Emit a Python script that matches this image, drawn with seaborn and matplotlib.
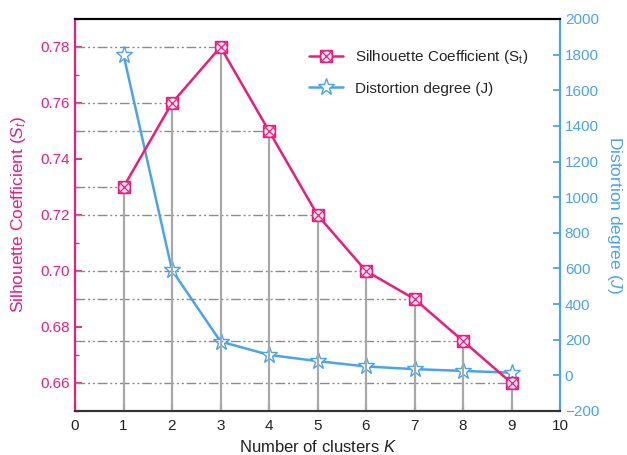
import matplotlib
matplotlib.use("Agg")
import matplotlib.pyplot as plt
import seaborn as sns
import pandas as pd
from matplotlib.lines import Line2D
from matplotlib.ticker import MultipleLocator

sns.set_theme(style="white")
plt.rcParams['font.family'] = ['Liberation Sans', 'DejaVu Sans']
plt.rcParams['mathtext.fontset'] = 'custom'
plt.rcParams['mathtext.rm'] = 'Liberation Sans'
plt.rcParams['mathtext.it'] = 'Liberation Sans:italic'

K = [1, 2, 3, 4, 5, 6, 7, 8, 9]
silhouette = [0.73, 0.76, 0.78, 0.75, 0.72, 0.70, 0.69, 0.675, 0.66]
distortion = [1800, 590, 190, 115, 80, 50, 35, 25, 15]

PINK = "#EC1C7A"
BLUE = "#4AA3EE"
df = pd.DataFrame({"K": K, "S": silhouette, "J": distortion})

fig = plt.figure(figsize=(6.27, 4.55), dpi=100)
ax = fig.add_axes([75/627, 1-411/455, 485/627, 392/455])
ax2 = ax.twinx()

ax.set_xlim(0, 10)
ax.set_ylim(0.65, 0.79)
ax2.set_ylim(-200, 2000)

# guide lines
ax.hlines(silhouette, 0, K, colors="#8c8c8c", linewidth=1.0,
          linestyles=(0, (7, 2, 1.5, 2, 1.5, 2)), zorder=1)
ax.vlines(K, 0.65, silhouette, colors="#a8a8a8", linewidth=1.6, zorder=1)

# silhouette line
sns.lineplot(data=df, x="K", y="S", ax=ax, color=PINK, linewidth=1.8,
             marker="s", markersize=9, markerfacecolor="#fde8f1",
             markeredgecolor=PINK, markeredgewidth=1.0, zorder=4, legend=False)
ax.plot(K, silhouette, linestyle="none", marker="x", markersize=8,
        color=PINK, markeredgewidth=0.9, zorder=5)
ax.plot(K, silhouette, linestyle="none", marker="o", markersize=8.5,
        markerfacecolor="none", markeredgecolor=PINK, markeredgewidth=0.9, zorder=5)

# distortion line
sns.lineplot(data=df, x="K", y="J", ax=ax2, color=BLUE, linewidth=1.8,
             marker="*", markersize=12.5, markerfacecolor="white",
             markeredgecolor=BLUE, markeredgewidth=1.0, zorder=4, legend=False)

ax.set_zorder(ax2.get_zorder() + 1)
ax.patch.set_visible(False)

# axes styling
for a in (ax, ax2):
    for s in a.spines.values():
        s.set_visible(True)
        s.set_linewidth(1.5)
    a.spines['top'].set_color("black")
    a.spines['bottom'].set_color("#333333")
    a.spines['left'].set_color(PINK)
    a.spines['right'].set_color(BLUE)

ax.xaxis.set_major_locator(MultipleLocator(1))
ax.yaxis.set_major_locator(MultipleLocator(0.02))
ax.yaxis.set_minor_locator(MultipleLocator(0.01))
ax.yaxis.set_major_formatter(matplotlib.ticker.FormatStrFormatter("%.2f"))
ax2.yaxis.set_major_locator(MultipleLocator(200))

ax.tick_params(axis="x", direction="in", length=5, width=1.5, color="#333333",
               labelsize=11, labelcolor="#222222", pad=6, bottom=True)
ax.tick_params(axis="y", which="major", direction="in", length=5, width=1.3,
               color=PINK, labelcolor=PINK, labelsize=11, left=True, right=False)
ax.tick_params(axis="y", which="minor", direction="in", length=3, width=1.0,
               color=PINK, left=True, right=False)
ax2.tick_params(axis="y", direction="in", length=5, width=1.3, color=BLUE,
                labelcolor=BLUE, labelsize=11, right=True, left=False)

ax.set_xlabel("Number of clusters $K$", fontsize=12, color="#222222", labelpad=4)
ax.set_ylabel("Silhouette Coefficient ($S_t$)", fontsize=12.5, color=PINK, labelpad=9)
ax2.set_ylabel("Distortion degree ($J$)", fontsize=12.5, color=BLUE,
               rotation=270, labelpad=18)
ax.grid(False)
ax2.grid(False)

h1 = (Line2D([], [], color=PINK, linewidth=1.8, marker="s", markersize=9,
             markerfacecolor="#fde8f1", markeredgecolor=PINK, markeredgewidth=1.0),
      Line2D([], [], linestyle="none", marker="x", markersize=8, color=PINK,
             markeredgewidth=0.9),
      Line2D([], [], linestyle="none", marker="o", markersize=8.5,
             markerfacecolor="none", markeredgecolor=PINK, markeredgewidth=0.9))
h2 = Line2D([], [], color=BLUE, linewidth=1.8, marker="*", markersize=12.5,
            markerfacecolor="white", markeredgecolor=BLUE, markeredgewidth=1.0)
leg = ax.legend([h1, h2], ["Silhouette Coefficient (S$_\\mathregular{t}$)",
                           "Distortion degree (J)"],
                loc="upper left", bbox_to_anchor=(0.455, 0.96), frameon=False,
                fontsize=11, handlelength=2.2, labelspacing=1.0)

fig.savefig("out.png", dpi=100)
